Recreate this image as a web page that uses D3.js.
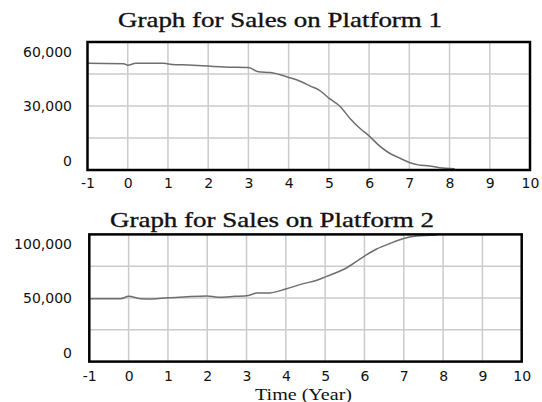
<!DOCTYPE html>
<html>
<head>
<meta charset="utf-8">
<script src="https://cdn.jsdelivr.net/npm/d3@7"></script>
<style>
  body { margin: 0; background: #fff; }
  svg { display: block; }
</style>
</head>
<body>
<div id="chart"></div>
<script>
// Chart data
var xTicks = [-1, 0, 1, 2, 3, 4, 5, 6, 7, 8, 9, 10];

var time1 = [-1, -0.1, 0, 0.2, 0.9, 1.1, 1.5, 2, 2.4, 3, 3.25, 3.55, 4, 4.3, 4.55, 4.75, 5, 5.28, 5.52, 5.77, 6, 6.23, 6.48, 6.77, 7, 7.22, 7.5, 7.75, 8.13];
var sales1 = [50000, 49850, 49100, 50000, 50000, 49500, 49200, 48700, 48300, 48100, 46000, 45700, 43400, 41500, 39200, 37600, 33700, 29800, 24300, 19600, 16000, 11800, 8200, 5500, 3500, 2400, 1900, 1100, 600];
var yTicks1 = [0, 30000, 60000];

var time2 = [-1, -0.2, 0, 0.3, 0.6, 1, 1.4, 2, 2.27, 2.7, 3.05, 3.26, 3.6, 4, 4.45, 4.79, 5.02, 5.55, 6.02, 6.31, 6.65, 7.02, 7.33, 7.84];
var sales2 = [49500, 49500, 51300, 49500, 49200, 50200, 50800, 51600, 50600, 51300, 52000, 53900, 54000, 57100, 61300, 63900, 66800, 73800, 83300, 88500, 92900, 96900, 98700, 99500];
var yTicks2 = [0, 50000, 100000];

var svgWidth = 542;
var svgHeight = 402;

var svg = d3.select("#chart")
  .append("svg")
  .attr("width", svgWidth)
  .attr("height", svgHeight);

function panel(opt) {
  var x = d3.scaleLinear().domain([-1, 10]).range([opt.left, opt.right]);
  var y = d3.scaleLinear().domain([0, opt.yMax]).range([opt.bottom, opt.top]);
  var g = svg.append("g");

  // title
  g.append("text")
    .attr("x", opt.titleX)
    .attr("y", opt.titleY)
    .attr("textLength", opt.titleW)
    .attr("lengthAdjust", "spacingAndGlyphs")
    .attr("font-family", "'Liberation Serif', 'Times New Roman', serif")
    .attr("font-size", "22px")
    .attr("fill", "#111")
    .attr("stroke", "#111")
    .attr("stroke-width", 0.35)
    .text(opt.title);

  // grid
  g.append("g").selectAll("line")
    .data(xTicks.slice(1, -1))
    .enter().append("line")
    .attr("x1", d => x(d)).attr("x2", d => x(d))
    .attr("y1", opt.top).attr("y2", opt.bottom)
    .attr("stroke", "#cbcbcb").attr("stroke-width", 1.5);

  g.append("g").selectAll("line")
    .data(d3.range(1, 4).map(i => opt.yMax * i / 4))
    .enter().append("line")
    .attr("x1", opt.left).attr("x2", opt.right)
    .attr("y1", d => y(d)).attr("y2", d => y(d))
    .attr("stroke", "#cbcbcb").attr("stroke-width", 1.5);

  // series
  var clipId = "clip" + opt.id;
  g.append("clipPath").attr("id", clipId)
    .append("rect")
    .attr("x", opt.left).attr("y", opt.top)
    .attr("width", opt.right - opt.left).attr("height", opt.bottom - opt.top);

  var line = d3.line()
    .curve(d3.curveMonotoneX)
    .x(d => x(d[0]))
    .y(d => y(d[1]));

  g.append("path")
    .datum(d3.zip(opt.time, opt.values))
    .attr("clip-path", "url(#" + clipId + ")")
    .attr("d", line)
    .attr("fill", "none")
    .attr("stroke", "#6e6e6e")
    .attr("stroke-width", 1.5);

  // frame
  g.append("rect")
    .attr("x", opt.left).attr("y", opt.top)
    .attr("width", opt.right - opt.left).attr("height", opt.bottom - opt.top)
    .attr("fill", "none")
    .attr("stroke", "#000")
    .attr("stroke-width", 2.5);

  // axes
  var xAxis = d3.axisBottom(x)
    .tickValues(xTicks)
    .tickSize(0)
    .tickPadding(opt.xPad)
    .tickFormat(d => String(d));

  var gx = g.append("g")
    .attr("transform", `translate(0, ${opt.bottom})`)
    .call(xAxis);
  gx.select(".domain").remove();
  gx.selectAll("text")
    .attr("font-family", "'DejaVu Sans', Verdana, sans-serif")
    .attr("font-size", "14px")
    .attr("fill", "#111");

  var yAxis = d3.axisLeft(y)
    .tickValues(opt.yTicks)
    .tickSize(0)
    .tickPadding(opt.left - 72)
    .tickFormat(d3.format(","));

  var gy = g.append("g")
    .attr("transform", `translate(${opt.left}, 0)`)
    .call(yAxis);
  gy.select(".domain").remove();
  gy.selectAll("text")
    .attr("font-family", "'DejaVu Sans', Verdana, sans-serif")
    .attr("font-size", "14px")
    .attr("fill", "#111")
    .attr("y", d => d == opt.yMax ? 10 : (d == 0 ? -9 : 0));
}

panel({
  id: 1,
  title: "Graph for Sales on Platform 1",
  titleX: 118, titleY: 26.7, titleW: 324,
  left: 87.5, right: 530, top: 42, bottom: 170,
  yMax: 60000, yTicks: yTicks1,
  time: time1, values: sales1,
  xPad: 8
});

panel({
  id: 2,
  title: "Graph for Sales on Platform 2",
  titleX: 110, titleY: 226.6, titleW: 324,
  left: 89.3, right: 521.7, top: 234.4, bottom: 361.6,
  yMax: 100000, yTicks: yTicks2,
  time: time2, values: sales2,
  xPad: 9
});

// x axis title
svg.append("text")
  .attr("x", 255)
  .attr("y", 399.5)
  .attr("textLength", 97)
  .attr("lengthAdjust", "spacingAndGlyphs")
  .attr("font-family", "'Liberation Serif', 'Times New Roman', serif")
  .attr("font-size", "16px")
  .attr("fill", "#111")
  .text("Time (Year)");
</script>
</body>
</html>
